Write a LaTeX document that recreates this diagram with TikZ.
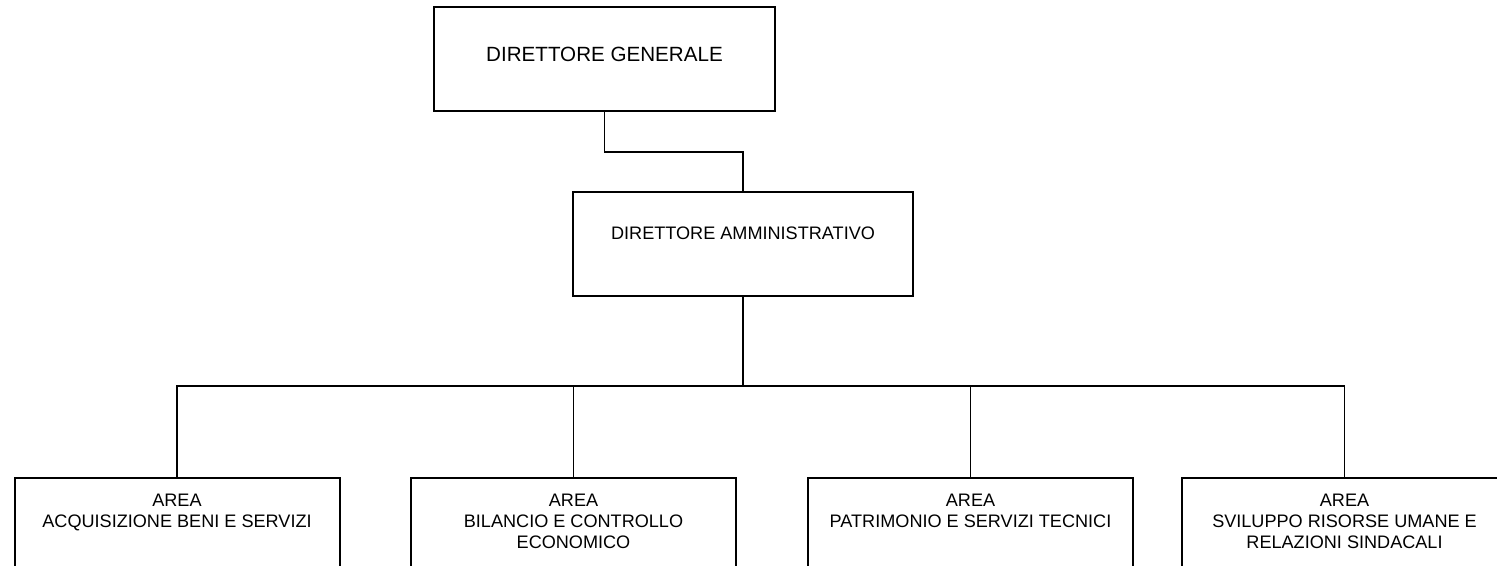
\documentclass[tikz,border=0pt]{standalone}
\usepackage{fontspec}
\setmainfont{Liberation Sans}

\tikzset{%
  box/.style={draw, line width=1pt, minimum width=170pt, minimum height=52pt, inner sep=0pt},%
  areabox/.style={box, minimum width=162.5pt},%
  boxtext/.style={inner sep=0pt, anchor=north, align=center, font=\fontsize{9.05}{10.4}\selectfont},%
  link/.style={line width=0.8pt}%
}

\begin{document}
\begin{tikzpicture}[x=0.5pt,y=-0.5pt]%
  \useasboundingbox (0,0) rectangle (1497,566);%
  \clip (0,0) rectangle (1497,566);%
  % Top of the chart
  \node[box, minimum width=170.5pt] (dg) at (604.5,59.5) {};%
  \node[boxtext, font=\fontsize{10.3}{12}\selectfont] (dgtext) at (604.5,46.7) {DIRETTORE GENERALE};%
  \node[box] (da) at (743,244) {};%
  \node[boxtext] (datext) at (743,226.7) {DIRETTORE AMMINISTRATIVO};%
  \coordinate (dgelbow) at (604.5,152);%
  \coordinate (bus) at (743,386);%
  \draw[link] (dg.south) -- (dgelbow) -| (da.north);%
  % Areas below the bus line
  \foreach \x/\name/\txt in {%
      177/acq/{AREA\\ACQUISIZIONE BENI E SERVIZI},%
      573.5/bil/{AREA\\BILANCIO E CONTROLLO\\ECONOMICO},%
      970.5/pat/{AREA\\PATRIMONIO E SERVIZI TECNICI},%
      1344.5/svi/{AREA\\SVILUPPO RISORSE UMANE E\\RELAZIONI SINDACALI}%
    }{%
      \node[areabox] (\name) at (\x,530) {};%             % box, cut at the bottom
      \node[boxtext] (\name text) at (\x,494) {\txt};%   % text at the top of the box
      \draw[link] (da.south) -- (bus) -| (\name.north);%
    };%
\end{tikzpicture}
\end{document}
